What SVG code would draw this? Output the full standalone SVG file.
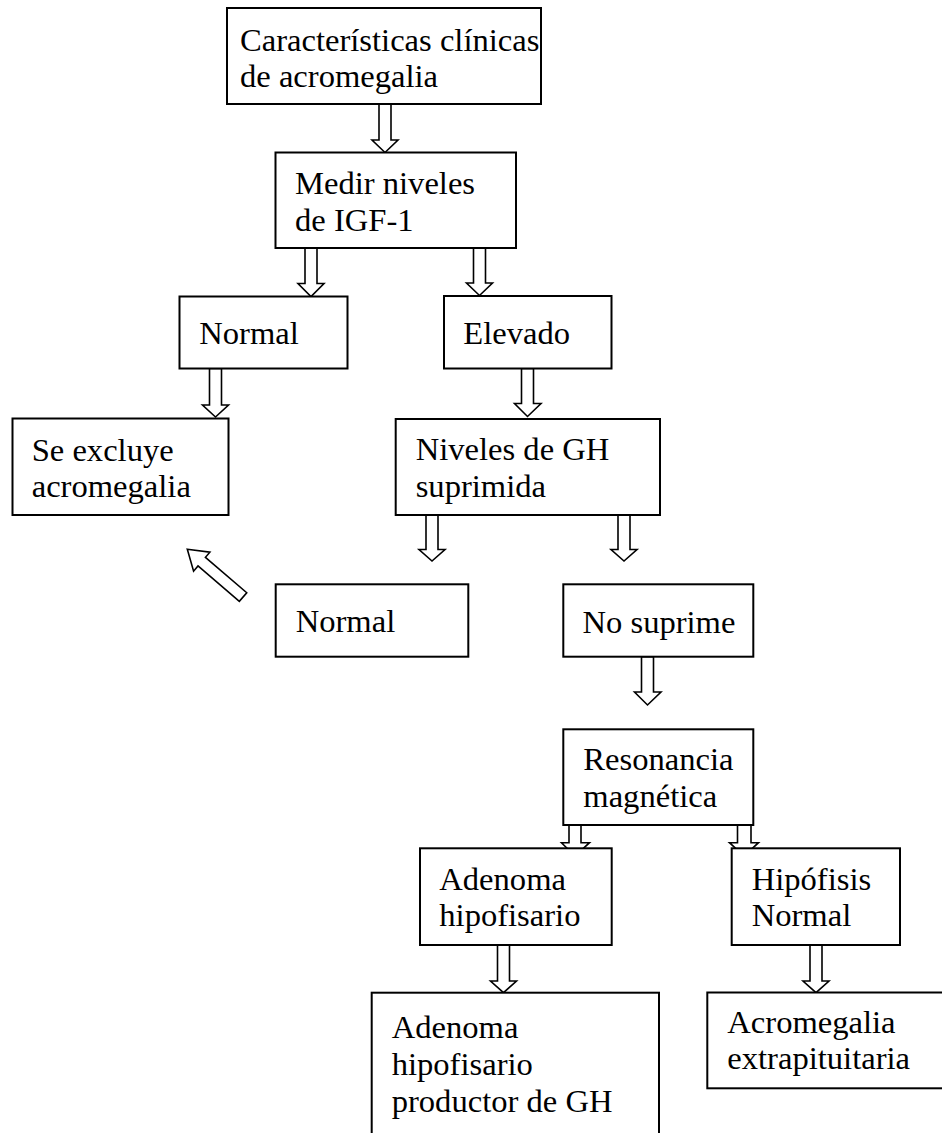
<svg xmlns="http://www.w3.org/2000/svg" width="942" height="1133" viewBox="0 0 942 1133">
<style>
.box{fill:#fff;stroke:#000;stroke-width:2}
.arr{fill:#fff;stroke:#000;stroke-width:1.6;stroke-linejoin:miter}
text{font-family:"Liberation Serif","Times New Roman",serif;font-size:32.6px;fill:#000}
</style>
<rect width="942" height="1133" fill="#fff"/>
<g id="connectors">
<polygon class="arr" points="379,104 391,104 391,140 398,140 385,152.5 372,140 379,140"/>
<polygon class="arr" points="305,248 317,248 317,283.5 324,283.5 311,296.5 298,283.5 305,283.5"/>
<polygon class="arr" points="473.5,248 485.5,248 485.5,283 492.5,283 479.5,295.5 466.5,283 473.5,283"/>
<polygon class="arr" points="209.5,368.5 221.5,368.5 221.5,405 228.5,405 215.5,417 202.5,405 209.5,405"/>
<polygon class="arr" points="521.5,368.5 533.5,368.5 533.5,403.5 541,403.5 527.5,416.5 514.5,403.5 521.5,403.5"/>
<polygon class="arr" points="426,515 438,515 438,549.5 445,549.5 432,561 419,549.5 426,549.5"/>
<polygon class="arr" points="618,515 630,515 630,549.5 637,549.5 624,561 611,549.5 618,549.5"/>
<polygon class="arr" points="641.5,656.7 653.5,656.7 653.5,692 661,692 647.5,705 634.5,692 641.5,692"/>
<polygon class="arr" points="569,825 581,825 581,842.7 589.5,842.7 575,856 561.5,842.7 569,842.7"/>
<polygon class="arr" points="737.5,825 751,825 751,842.7 758.5,842.7 744,856 729.5,842.7 737.5,842.7"/>
<polygon class="arr" points="497.5,945 509.5,945 509.5,981 516.5,981 503.5,992.7 490.5,981 497.5,981"/>
<polygon class="arr" points="810,945 822,945 822,981 829,981 816,992.7 803,981 810,981"/>
<polygon class="arr" transform="translate(187.3,549.3) rotate(-49.4)" points="0,0 12.5,19 5.7,19 5.7,73.4 -5.7,73.4 -5.7,19 -12.5,19"/>
</g>
<g id="n1"><rect class="box" x="227" y="8" width="314" height="96"/><text x="240" y="50.7">Características clínicas</text><text x="240" y="87.3">de acromegalia</text></g>
<g id="n2"><rect class="box" x="275.5" y="152.5" width="240.5" height="95.5"/><text x="295" y="194.3">Medir niveles</text><text x="295" y="231">de IGF-1</text></g>
<g id="n3"><rect class="box" x="179.5" y="296.5" width="168" height="72"/><text x="199.3" y="344.3">Normal</text></g>
<g id="n4"><rect class="box" x="444" y="296" width="167.5" height="72.5"/><text x="463.3" y="344">Elevado</text></g>
<g id="n5"><rect class="box" x="12.5" y="418.5" width="216" height="96.5"/><text x="31.7" y="460.5">Se excluye</text><text x="31.7" y="496.7">acromegalia</text></g>
<g id="n6"><rect class="box" x="395.7" y="419" width="264.3" height="96"/><text x="415.7" y="460">Niveles de GH</text><text x="415.7" y="496.7">suprimida</text></g>
<g id="n7"><rect class="box" x="275.7" y="584.3" width="192.6" height="72.4"/><text x="295.7" y="632">Normal</text></g>
<g id="n8"><rect class="box" x="563.3" y="584.3" width="190" height="72.4"/><text x="582.5" y="632.5">No suprime</text></g>
<g id="n9"><rect class="box" x="563.3" y="729.3" width="190" height="95.7"/><text x="583.3" y="770">Resonancia</text><text x="583.3" y="806.7">magnética</text></g>
<g id="n10"><rect class="box" x="420" y="848.3" width="191.7" height="96.7"/><text x="439.3" y="890">Adenoma</text><text x="439.3" y="926">hipofisario</text></g>
<g id="n11"><rect class="box" x="731.7" y="848.3" width="168.3" height="96.7"/><text x="751.7" y="890">Hipófisis</text><text x="751.7" y="926">Normal</text></g>
<g id="n12"><rect class="box" x="371.7" y="992.7" width="287.3" height="160"/><text x="391.7" y="1038.3">Adenoma</text><text x="391.7" y="1075">hipofisario</text><text x="391.7" y="1111.7">productor de GH</text></g>
<g id="n13"><rect class="box" x="707.3" y="992.5" width="240" height="95.8"/><text x="727.3" y="1033.3">Acromegalia</text><text x="727.3" y="1069.3">extrapituitaria</text></g>
</svg>
